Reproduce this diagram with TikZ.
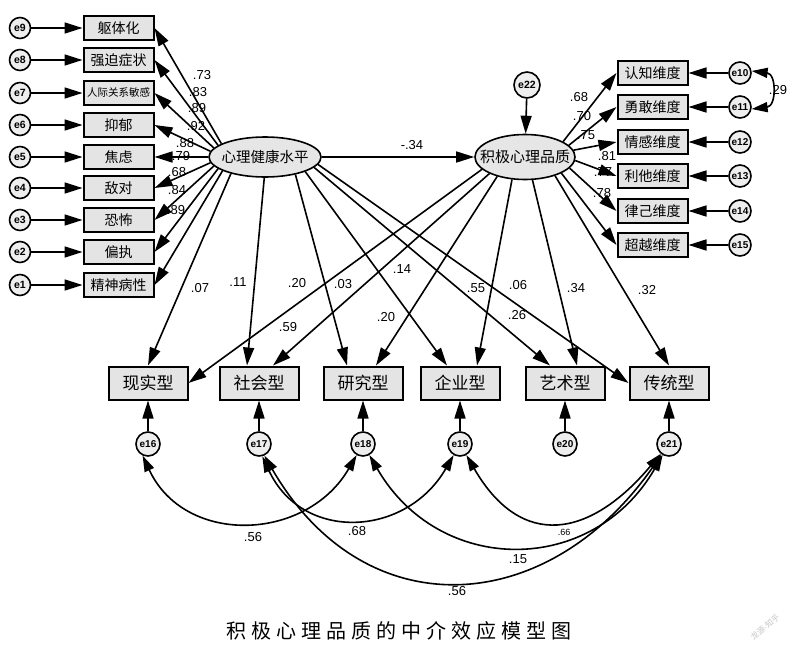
\documentclass[tikz,border=0pt]{standalone}
\usepackage{fontspec}
\setmainfont{Liberation Sans}
\newfontfamily\cjk{Noto Sans CJK SC}
\usetikzlibrary{arrows.meta,shapes.geometric,calc}
\definecolor{boxfill}{HTML}{E4E4E4}
\definecolor{latfill}{HTML}{E6E6E6}
\definecolor{errfill}{HTML}{EEEEEE}
\begin{document}
\begin{tikzpicture}[x=1pt,y=1pt,
  >={Triangle[length=18pt,width=11pt]},
  obs/.style={draw,line width=2pt,fill=boxfill,minimum width=70pt,minimum height=24pt,inner sep=0pt,font=\cjk\fontsize{14}{14}\selectfont},
  outc/.style={obs,minimum width=79pt,minimum height=33pt,font=\cjk\fontsize{17}{17}\selectfont},
  err/.style={circle,draw,line width=1.6pt,fill=errfill,minimum size=21pt,inner sep=0pt,font=\bfseries\fontsize{10}{10}\selectfont},
  lat/.style={ellipse,draw,line width=1.6pt,fill=latfill,inner sep=0pt},
  pth/.style={->,line width=1.6pt},
  cov/.style={{Triangle[length=16pt,width=10pt]}-{Triangle[length=16pt,width=10pt]},line width=1.6pt},
  lab/.style={inner sep=0pt,font=\fontsize{13}{13}\selectfont},
]
\fill[white] (0,0) rectangle (800,-659);
\useasboundingbox (0,0) rectangle (800,-659);

% left indicators
\foreach \n/\t/\y in {9/躯体化/28,8/强迫症状/60,6/抑郁/125,5/焦虑/157,4/敌对/188,3/恐怖/220,2/偏执/252,1/精神病性/285}{
  \node[obs] (l\n) at (118.5,-\y) {\t};
  \node[err,font=\bfseries\fontsize{10.5}{10.5}\selectfont] (e\n) at (20,-\y) {e\n};
}
\node[obs,font=\cjk\fontsize{10.5}{10.5}\selectfont] (l7) at (118.5,-93) {人际关系敏感};
\node[err,font=\bfseries\fontsize{10.5}{10.5}\selectfont] (e7) at (20,-93) {e7};
\foreach \n in {1,...,9}{\draw[pth] (e\n) -- (l\n);}

% latent variables
\node[lat,minimum width=112pt,minimum height=40pt,label={[font=\cjk\fontsize{14.5}{14.5}\selectfont]center:心理健康水平}] (h) at (265,-157) {};
\node[lat,minimum width=100pt,minimum height=45pt,label={[font=\cjk\fontsize{15}{15}\selectfont]center:积极心理品质}] (p) at (525,-157) {};
\node[err,minimum size=26pt,font=\bfseries\fontsize{10.5}{10.5}\selectfont] (e22) at (527,-85) {e22};
\draw[pth] (e22) -- (p);
\draw[pth] (h.east) -- (p.west);

% right indicators
\foreach \n/\t/\y/\e in {1/认知维度/73/10,2/勇敢维度/107/11,3/情感维度/142/12,4/利他维度/176/13,5/律己维度/211/14,6/超越维度/245/15}{
  \node[obs] (r\n) at (652.5,-\y) {\t};
  \node[err,minimum size=22pt] (e\e) at (740,-\y) {e\e};
  \draw[pth] (e\e) -- (r\n);
}
\draw[cov] (e10.10) .. controls +(25,-3) and +(25,3) .. (e11.-10);

% outcomes
\foreach \n/\t/\x/\e in {1/现实型/148/16,2/社会型/259/17,3/研究型/363/18,4/企业型/460/19,5/艺术型/565/20,6/传统型/669/21}{
  \node[outc] (o\n) at (\x,-383) {\t};
  \node[err,minimum size=24pt] (e\e) at (\x,-444) {e\e};
  \draw[pth] (e\e) -- (o\n);
}

% loadings
\foreach \n/\a in {9/163,8/166,7/170,6/174,5/180,4/186,3/190,2/194,1/198}{\draw[pth] (h.\a) -- (l\n.east);}
\foreach \n/\a in {1/22,2/15,3/8,4/-4,5/-14,6/-24}{\draw[pth] (p.\a) -- (r\n.west);}

% structural paths
\draw[pth] (h.206) -- (o1.north);
\draw[pth] (h.-92) -- ([xshift=-12pt]o2.north);
\draw[pth] (h.-30) -- ([xshift=-16pt]o3.north);
\draw[pth] (h.-20) -- ([xshift=-13pt]o4.north);
\draw[pth] (h.-12) -- ([xshift=-15pt]o5.north);
\draw[pth] (h.-8) -- (o6.west);
\draw[pth] (p.196) -- (o1.east);
\draw[pth] (p.205) -- ([xshift=14pt]o2.north);
\draw[pth] (p.215) -- ([xshift=13pt]o3.north);
\draw[pth] (p.240) -- ([xshift=17pt]o4.north);
\draw[pth] (p.-72) -- ([xshift=12pt]o5.north);
\draw[pth] (p.-32) -- (o6.north);

% covariances
\draw[cov] (e16.-115) .. controls +(-65:100) and +(-120:100) .. (e18.-120);
\draw[cov] (e17.-75) .. controls +(-65:95) and +(-120:95) .. (e19.-120);
\draw[cov] (e17.-65) .. controls +(-60:200) and +(-125:200) .. (e21.-125);
\draw[cov] (e18.-60) .. controls +(-60:140) and +(-120:140) .. (e21.-120);
\draw[cov] (e19.-60) .. controls +(-60:110) and +(-130:110) .. (e21.-130);

% labels
\foreach \t/\x/\y in {.73/202/75,.83/198/92,.89/197/108,.92/196/126,.88/185/143,.79/181/156,.68/177/172,.84/177/190,.89/176/210,
  .68/579/97,.70/582/116,.75/586/135,.81/607/156,.77/603/172,.78/602/193,.29/778/90,
  -.34/412/145,.07/200/288,.11/238/282,.20/297/283,.03/343/284,.14/402/269,.20/386/317,.59/288/327,
  .55/476/288,.06/518/285,.26/517/315,.34/576/288,.32/647/290,
  .56/253/537,.68/357/531,.15/518/559,.56/457/591}{
  \node[lab] at (\x,-\y) {\t};
}
\node[lab,font=\fontsize{9}{9}\selectfont] at (564,-532) {.66};

% caption
\node[font=\cjk\fontsize{20}{20}\selectfont,inner sep=0pt] (cap) at (399,-631) {积\kern5pt极\kern5pt心\kern5pt理\kern5pt品\kern5pt质\kern5pt的\kern5pt中\kern5pt介\kern5pt效\kern5pt应\kern5pt模\kern5pt型\kern5pt图};
\node[rotate=40,text=gray!45,font=\cjk\fontsize{8}{8}\selectfont,inner sep=0pt] (wm) at (765,-627) {龙源-知乎};
\end{tikzpicture}
\end{document}
